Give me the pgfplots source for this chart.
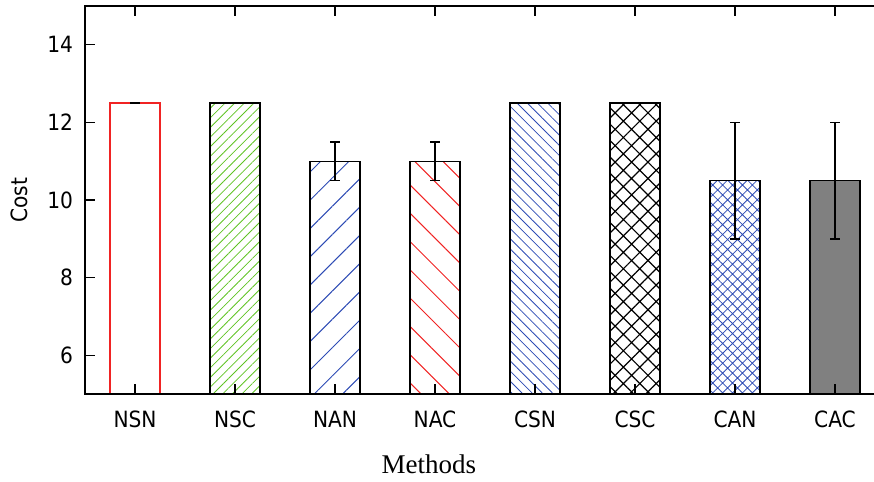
\documentclass[border=0pt]{standalone}
\usepackage{fontspec}
\setmainfont{Liberation Serif}
\newfontfamily\tah{DejaVu Sans Condensed}
\usepackage{pgfplots}
\pgfplotsset{compat=1.18}
\usetikzlibrary{patterns.meta}
\definecolor{gred}{RGB}{240,35,35}
\definecolor{ggreen}{RGB}{95,195,35}
\definecolor{gblue}{RGB}{45,75,180}
\definecolor{ggray}{RGB}{128,128,128}
\begin{document}
\begin{tikzpicture}
\begin{axis}[
  name=ax,
  width=400pt, height=194pt, scale only axis,
  ymin=5, ymax=15, xmin=-0.5, xmax=7.5,
  ytick={6,8,10,12,14},
  xtick={0,1,2,3,4,5,6,7},
  xticklabels={NSN,NSC,NAN,NAC,CSN,CSC,CAN,CAC},
  xtick pos=both, ytick pos=both,
  tick align=inside,
  major tick length=5pt,
  axis on top,
  every tick/.style={black, line width=0.6pt},
  axis line style={line width=0.6pt},
  ticklabel style={font=\tah\fontsize{11.2}{13}\selectfont},
  xticklabel style={yshift=-5pt},
  yticklabel style={xshift=-2.5pt},
  /pgf/number format/assume math mode=true,
  ylabel={Cost},
  ylabel style={font=\tah\fontsize{11.2}{13}\selectfont, at={(axis description cs:-0.0825,0.5)}, anchor=center},
  xlabel={Methods},
  xlabel style={font=\fontsize{13.5}{15}\selectfont, at={(axis description cs:0.43,-0.18)}, anchor=center},
  every axis plot/.append style={ybar, bar width=25pt, bar shift=0pt, line width=0.6pt},
  error bars/y dir=both, error bars/y explicit,
  error bars/error bar style={black, line width=0.6pt, solid},
  error bars/error mark options={rotate=90, black, mark size=2.4pt, line width=0.8pt, solid},
]
\addplot[draw=gred, fill=white] coordinates {(0,12.5) +- (0,0.001)};
\addplot[draw=black, pattern={Lines[angle=45,distance=3.4pt,line width=0.4pt]}, pattern color=ggreen] coordinates {(1,12.5) +- (0,0.001)};
\addplot[draw=black, pattern={Lines[angle=45,distance=10pt,line width=0.5pt]}, pattern color=gblue] coordinates {(2,11) +- (0,0.5)};
\addplot[draw=black, pattern={Lines[angle=-45,distance=10pt,line width=0.5pt]}, pattern color=gred] coordinates {(3,11) +- (0,0.5)};
\addplot[draw=black, pattern={Lines[angle=-45,distance=3.6pt,line width=0.4pt]}, pattern color=gblue] coordinates {(4,12.5) +- (0,0.001)};
\addplot[draw=black, pattern={Hatch[angle=45,distance=5.8pt,line width=0.6pt]}, pattern color=black] coordinates {(5,12.5) +- (0,0.001)};
\addplot[draw=black, pattern={Hatch[angle=45,distance=3.5pt,line width=0.4pt]}, pattern color=gblue] coordinates {(6,10.5) +- (0,1.5)};
\addplot[draw=black, fill=ggray] coordinates {(7,10.5) +- (0,1.5)};
\end{axis}
\pgfresetboundingbox
\useasboundingbox ([xshift=-42.5pt,yshift=-44pt]ax.south west) rectangle ([xshift=-5.5pt,yshift=3pt]ax.north east);
\end{tikzpicture}
\end{document}
